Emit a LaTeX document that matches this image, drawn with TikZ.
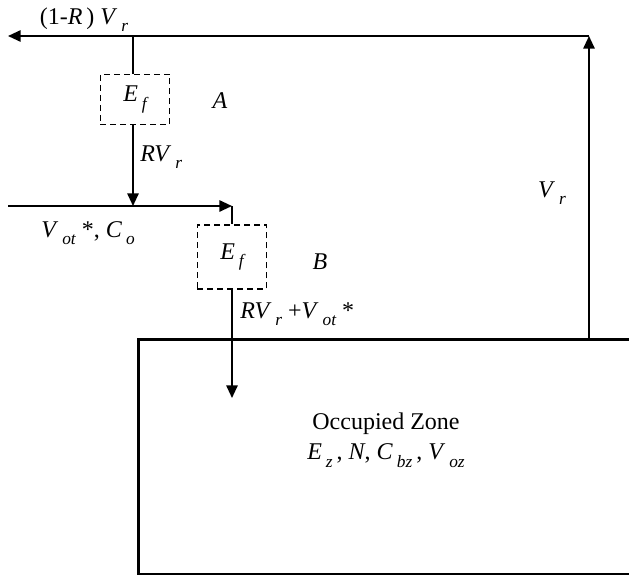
\documentclass[tikz,border=0pt]{standalone}
\usepackage{fontspec}
\setmainfont{Liberation Serif}
\usetikzlibrary{arrows.meta}
\newcommand\sbx[1]{\raisebox{-0.3em}{\fontsize{13}{13}\selectfont\itshape #1}}
\begin{document}
\begin{tikzpicture}[x=0.75pt,y=-0.75pt,
  flow/.style={line width=1.4pt,-{Triangle[length=9.5pt,width=8.5pt]}},
  plain/.style={line width=1.4pt},
  filterbox/.style={draw,line width=0.9pt,dash pattern=on 4.5pt off 3pt,minimum width=52pt,inner sep=0pt,font=\fontsize{18}{21}\selectfont},
  lbl/.style={inner sep=0pt,font=\fontsize{18}{21}\selectfont},
  zonebox/.style={draw,line width=2.6pt,inner sep=0pt,anchor=north west,minimum width=380pt,minimum height=176pt}]
\useasboundingbox (0,0) rectangle (629,575);
% nodes
\node[filterbox,minimum height=38pt] (fa) at (135,99.5) {\textit{E}\,\sbx{f}};
\node[filterbox,minimum height=48pt] (fb) at (232,257) {\textit{E}\,\sbx{f}};
\node[zonebox] (zone) at (137,338) {};
\node[lbl,align=center] (zonetext) at (386,440) {Occupied Zone\\[2pt]\textit{E}\,\sbx{z}\,, \textit{N}, \textit{C}\,\sbx{bz}\,, \textit{V}\,\sbx{oz}};
% coordinates
\coordinate (topL) at (8,36);
\coordinate (topR) at (589,36);
\coordinate (tapA) at (133,36);
\coordinate (midL) at (8,206);
\coordinate (midJ) at (133,206);
\coordinate (midR) at (232,206);
\coordinate (zoneOut) at (589,338);
\coordinate (inlet) at (232,398);
% connectors
\draw[flow] (zoneOut) -- (topR);
\draw[flow] (topR) -- (topL);
\draw[plain] (tapA) -- (tapA |- fa.north);
\draw[flow] (fa.south -| midJ) -- (midJ);
\draw[flow] (midL) -- (midR);
\draw[plain] (midR) -- (fb.north);
\draw[flow] (fb.south) -- (inlet);
% labels
\node[lbl] (l1) at (84,20) {(1-\textit{R}\,) \textit{V}\,\sbx{r}};
\node[lbl] (lA) at (220,101) {\textit{A}};
\node[lbl,anchor=west] (l2) at (140,157) {\textit{RV}\,\sbx{r}};
\node[lbl] (l3) at (88,233) {\textit{V}\,\sbx{ot} *, \textit{C}\,\sbx{o}};
\node[lbl] (lB) at (320,262) {\textit{B}};
\node[lbl,anchor=west] (l4) at (240,314) {\textit{RV}\,\sbx{r} +\textit{V}\,\sbx{ot} *};
\node[lbl] (l5) at (552,193) {\textit{V}\,\sbx{r}};
\end{tikzpicture}
\end{document}
